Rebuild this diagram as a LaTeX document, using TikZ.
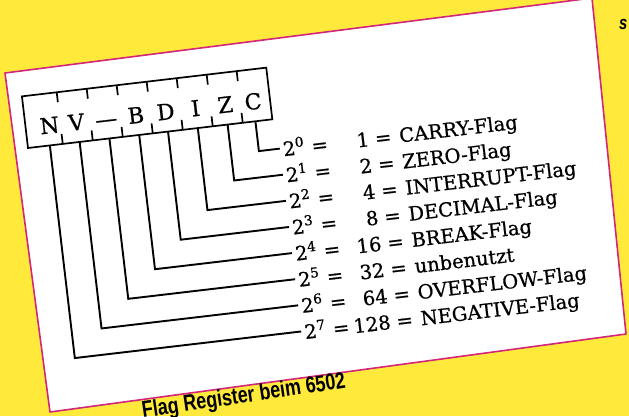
\documentclass[tikz,border=0pt]{standalone}
\usepackage{fontspec}
\setmainfont{DejaVu Serif}
\newfontfamily\rowfont[FakeBold=0.7]{DejaVu Serif}
\newfontfamily\capfont[FakeStretch=0.78]{Liberation Sans}
\usepackage{tikz}
\definecolor{PageYellow}{RGB}{255,234,60}
\definecolor{CardPink}{RGB}{212,38,120}
\begin{document}
\begin{tikzpicture}[
    x=1pt, y=-1pt,
    card/.style={draw=CardPink, line width=1.6pt, fill=white, line join=round},
    regline/.style={line width=1.7pt},
    lead/.style={line width=1.9pt, line join=miter},
    bit/.style={anchor=base, inner sep=0pt, font=\rowfont\fontsize{22}{24}\selectfont},
    lbl/.style={anchor=base west, inner sep=0pt, font=\rowfont\fontsize{19.5}{22}\selectfont},
    eq/.style={anchor=base, inner sep=0pt, font=\rowfont\fontsize{19.5}{22}\selectfont},
    num/.style={anchor=base east, inner sep=0pt, font=\rowfont\fontsize{19.5}{22}\selectfont},
]
\useasboundingbox (0,0) rectangle (629,416);
\clip (0,0) rectangle (629,416);
\fill[PageYellow] (0,0) rectangle (629,416);

% Karte
\draw[card] (5,73) -- (592,-2) -- (626,334) -- (50,412) -- cycle;

% Registerinhalt, leicht gedreht
\begin{scope}[shift={(28,148)}, rotate=6.7, transform shape]
  \draw[regline] (0,0) rectangle (246,-52);
  \foreach \b in {35,65.2,95.4,125.6,155.8,186,216.2}
    \draw[regline] (\b,0) -- (\b,-10) (\b,-52) -- (\b,-42);
  \foreach \u/\t/\n in {24/N/n, 51/V/v, 81/—/u, 111/B/b, 141/D/d, 171/I/i, 201/Z/z, 229/C/c}
    \node[bit] (bit\n) at (\u,-12) {\t};

  % Zuordnung Bit -> Wert
  \foreach \k/\u/\num/\name in {0/229/1/CARRY-Flag, 1/201/2/ZERO-Flag,
      2/171/4/INTERRUPT-Flag, 3/141/8/DECIMAL-Flag, 4/112/16/BREAK-Flag,
      5/82/32/unbenutzt, 6/52/64/OVERFLOW-Flag, 7/22/128/NEGATIVE-Flag} {
    \pgfmathsetmacro\v{30+26.3*\k}
    \pgfmathsetmacro\bl{\v+8}
    \coordinate (top\k) at (\u,0);
    \coordinate (bend\k) at (\u,\v);
    \coordinate (end\k) at (250,\v);
    \node[lbl] (pw\k) at (253,\bl) {2\textsuperscript{\k}};
    \node[eq] (eqa\k) at (290,\bl) {=};
    \node[num] (num\k) at (340,\bl) {\num};
    \node[eq] (eqb\k) at (354,\bl) {=};
    \node[lbl] (flag\k) at (370,\bl) {\name};
    \draw[lead] (top\k) -- (bend\k) -- (end\k);
  }
\end{scope}

% Bildunterschrift und Randtext
\node[anchor=base west, inner sep=0pt, rotate=8.5, font=\capfont\bfseries\fontsize{23}{26}\selectfont]
  (caption) at (143,418) {Flag Register beim 6502};
\node[anchor=base west, inner sep=0pt, font=\capfont\bfseries\itshape\fontsize{19}{22}\selectfont]
  (frag) at (619,29) {s};
\end{tikzpicture}
\end{document}
